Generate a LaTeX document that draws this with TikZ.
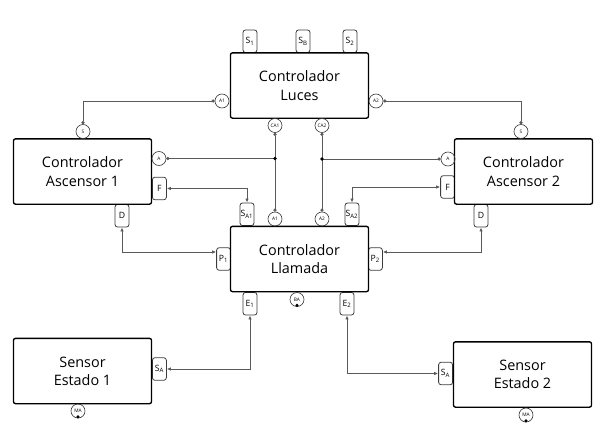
\documentclass[tikz,border=0pt]{standalone}
\usepackage{fontspec}
\setmainfont{Open Sans}
\usetikzlibrary{arrows.meta,calc}

\tikzset{every picture/.style={line width=0.75pt}}
\tikzset{
  block/.style={draw, line width=1pt, rounded corners=1.5pt, minimum width=103.5pt, minimum height=49pt, inner sep=0pt, align=center, font=\fontsize{10.8}{13.7}\selectfont},
  port/.style={draw={rgb, 255:red, 60; green, 60; blue, 60 }, line width=0.6pt, rounded corners=2pt, minimum width=10.5pt, minimum height=17pt, inner sep=0pt, font=\fontsize{6.5}{7}\selectfont},
  pin/.style={draw={rgb, 255:red, 60; green, 60; blue, 60 }, circle, line width=0.5pt, minimum size=10.5pt, inner sep=0pt, font=\fontsize{3.6}{4}\selectfont},
  link/.style={draw={rgb, 255:red, 90; green, 90; blue, 90 }, line width=0.6pt},
  arrowlink/.style={link, {Latex[length=3pt,width=2.6pt]}-{Latex[length=3pt,width=2.6pt]}},
  dotlink/.style={link, {Circle[length=2.4pt]}-{Circle[length=2.4pt]}},
}

\begin{document}
\begin{tikzpicture}[x=0.75pt,y=0.75pt,yscale=-1,xscale=1]
\useasboundingbox (0,0) rectangle (600,429);

%Ports behind the blocks
% Luces
\node [port, anchor=south] (s1) at (250,53) {S\textsubscript{1}};
\node [port, anchor=south] (sb) at (303,53) {S\textsubscript{B}};
\node [port, anchor=south] (s2) at (350,53) {S\textsubscript{2}};
% Ascensor 1
\node [port, anchor=west] (f1) at (152,188.5) {F};
\node [port, anchor=north] (d1) at (122,204) {D};
% Ascensor 2
\node [port, anchor=east] (f2) at (455,187) {F};
\node [port, anchor=north] (d2) at (481,204) {D};
% Llamada
\node [port, anchor=south] (sa1) at (247,226) {S\textsubscript{A1}};
\node [port, anchor=south] (sa2) at (352,226) {S\textsubscript{A2}};
\node [port, anchor=east] (p1) at (231,259) {P\textsubscript{1}};
\node [port, anchor=west] (p2) at (368,259) {P\textsubscript{2}};
\node [port, anchor=north] (e1) at (250,292) {E\textsubscript{1}};
\node [port, anchor=north] (e2) at (347,292) {E\textsubscript{2}};
% Sensores
\node [port, anchor=west] (sen1) at (152,369) {S\textsubscript{A}};
\node [port, anchor=east] (sen2) at (453,373.5) {S\textsubscript{A}};

%Blocks
\node [block, fill=white] (luces) at (299.5,85.5) {Controlador\\Luces};
\node [block, fill=white] (asc1) at (82.5,171.5) {Controlador\\Ascensor 1};
\node [block, fill=white] (asc2) at (523.5,171.5) {Controlador\\Ascensor 2};
\node [block, fill=white] (llamada) at (299.5,259) {Controlador\\Llamada};
\node [block, fill=white] (sensor1) at (82.5,371) {Sensor\\Estado 1};
\node [block, fill=white] (sensor2) at (522.5,374.5) {Sensor\\Estado 2};

%Pins
\node [pin] (la1) at (222,101) {A1};
\node [pin] (la2) at (376,101) {A2};
\node [pin] (ca1) at (275,125.5) {CA1};
\node [pin] (ca2) at (322,125.5) {CA2};
\node [pin] (s1c) at (83,131.5) {S};
\node [pin] (s2c) at (521,131.5) {S};
\node [pin] (aa1) at (159,158.5) {A};
\node [pin] (aa2) at (448,159) {A};
\node [pin] (ha1) at (275,219) {A1};
\node [pin] (ha2) at (322,219) {A2};
\node [pin] (ba) at (297,299.5) {BA};
\node [pin] (ma1) at (78,411) {MA};
\node [pin] (ma2) at (526,415) {MA};

%Pin dots
\fill (ba.south) ++(0,-1.5) circle (1.3pt);
\fill (ma1.south) ++(0,-1.5) circle (1.3pt);
\fill (ma2.south) ++(0,-1.5) circle (1.3pt);

%Straight Lines
\draw [dotlink] (la1.west) -| (s1c.north);
\draw [dotlink] (la2.east) -| (s2c.north);
\draw [dotlink] (ca1.south) -- (ha1.north);
\draw [dotlink] (ca2.south) -- (ha2.north);
\draw [link, {Circle[length=2.4pt]}-] (aa1.east) -- (aa1.east -| ca1.south);
\fill (aa1.east -| ca1.south) circle (1.4pt);
\draw [link, {Circle[length=2.4pt]}-] (aa2.west) -- (aa2.west -| ca2.south);
\fill (aa2.west -| ca2.south) circle (1.4pt);

\draw [arrowlink] (f1.east) -| (sa1.north);
\draw [arrowlink] (f2.west) -| (sa2.north);
\draw [arrowlink] (d1.south) |- ($(p1.west)+(0,-7)$);
\draw [arrowlink] (d2.south) |- ($(p2.east)+(0,-7)$);
\draw [arrowlink] (sen1.east) -| (e1.south);
\draw [arrowlink] (sen2.west) -| (e2.south);

\end{tikzpicture}
\end{document}
